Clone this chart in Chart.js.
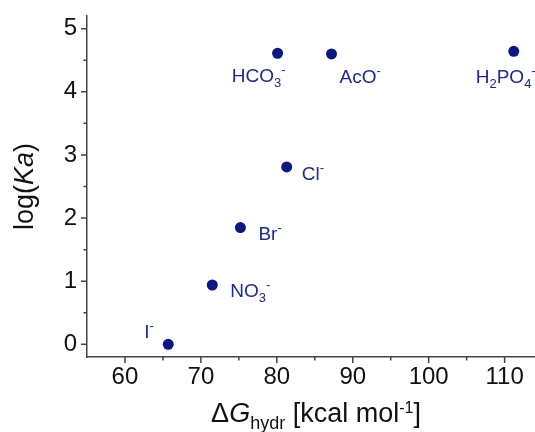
<!DOCTYPE html>
<html>
<head>
<meta charset="utf-8">
<script src="https://cdn.jsdelivr.net/npm/chart.js@4.4.1/dist/chart.umd.min.js"></script>
<style>
  body { margin: 0; background: #fff; }
  canvas { display: block; }
</style>
</head>
<body>
<canvas id="anionChart" width="535" height="432"></canvas>
<script>
// anion labels use _x for subscript and ^x for superscript
var anions   = ['I^-', 'NO_3^-', 'Br^-', 'Cl^-', 'HCO_3^-', 'AcO^-', 'H_2PO_4^-'];
var dGhydr   = [65.7, 71.5, 75.2, 81.3, 80.1, 87.2, 111.2];
var logKa    = [0.0, 0.94, 1.85, 2.81, 4.61, 4.60, 4.64];
var xTicks   = [60, 70, 80, 90, 100, 110];
var yTicks   = [0, 1, 2, 3, 4, 5];

var fontName  = '"Liberation Sans", Arial, sans-serif';
var dotColor  = '#0a1886';
var textColor = '#1c2b8c';
var axisColor = '#444';

// where each label sits relative to its dot (dx, baseline dy, align)
var labelPos = [
    [-24, -6, 'left'],
    [18, 12, 'left'],
    [18, 12, 'left'],
    [15, 13, 'left'],
    [8, 29, 'right'],
    [8, 29, 'left'],
    [-38, 32, 'left']
];

// split 'HCO_3^-' into pieces
function parseRich(str){
    var parts = [];
    var buf = '';
    for (var i = 0; i < str.length; i++){
        var c = str[i];
        if ((c == '_' || c == '^') && i + 1 < str.length){
            if (buf) { parts.push({t: buf}); buf = ''; }
            parts.push({t: str[i + 1], sub: c == '_', sup: c == '^'});
            i++;
        } else {
            buf += c;
        }
    }
    if (buf) parts.push({t: buf});
    return parts;
}

function partFont(p, size, smallSize){
    var s = (p.sub || p.sup) ? (p.size || smallSize) : size;
    return (p.it ? 'italic ' : '') + s + 'px ' + fontName;
}

function richWidth(ctx, parts, size, smallSize){
    var w = 0;
    parts.forEach(function(p){
        ctx.font = partFont(p, size, smallSize);
        w += ctx.measureText(p.t).width;
    });
    return w;
}

function drawRich(ctx, parts, x, y, align, size, smallSize, subOff, supOff){
    var w = richWidth(ctx, parts, size, smallSize);
    if (align == 'right') x -= w;
    if (align == 'center') x -= w / 2;
    ctx.textBaseline = 'alphabetic';
    ctx.textAlign = 'left';
    parts.forEach(function(p){
        ctx.font = partFont(p, size, smallSize);
        var yy = y;
        if (p.sub) yy += subOff;
        if (p.sup) yy -= supOff;
        ctx.fillText(p.t, x, yy);
        x += ctx.measureText(p.t).width;
    });
}

var decorPlugin = {
    id: 'decor',
    afterDraw: function(chart){
        var ctx = chart.ctx;
        var xs = chart.scales.x;
        var ys = chart.scales.y;
        var area = chart.chartArea;

        ctx.save();
        // tick marks, outward, minor ones shorter
        ctx.strokeStyle = axisColor;
        ctx.lineWidth = 1.5;
        ctx.beginPath();
        for (var v = 55; v <= 114; v += 5){
            var px = xs.getPixelForValue(v);
            if (px <= area.left + 1 || px >= area.right - 1) continue;
            var len = (v % 10 == 0) ? 6 : 3.5;
            ctx.moveTo(px, area.bottom);
            ctx.lineTo(px, area.bottom + len);
        }
        for (var k = 0; k <= 10; k++){
            var val = k * 0.5;
            var py = ys.getPixelForValue(val);
            var l2 = (k % 2 == 0) ? 6 : 3.5;
            ctx.moveTo(area.left, py);
            ctx.lineTo(area.left - l2, py);
        }
        ctx.stroke();

        // point labels
        ctx.fillStyle = textColor;
        for (var i = 0; i < anions.length; i++){
            var cx = xs.getPixelForValue(dGhydr[i]);
            var cy = ys.getPixelForValue(logKa[i]);
            var lp = labelPos[i];
            drawRich(ctx, parseRich(anions[i]), cx + lp[0], cy + lp[1], lp[2], 19, 13, 5, 8);
        }

        // x axis title
        ctx.fillStyle = '#111';
        var xTitle = [
            {t: '\u0394'},
            {t: 'G', it: true},
            {t: 'hydr', sub: true, size: 18},
            {t: ' [kcal mol'},
            {t: '-1', sup: true, size: 16},
            {t: ']'}
        ];
        drawRich(ctx, xTitle, 316, 422, 'center', 27, 18, 7, 9);

        // y axis title, rotated
        ctx.translate(33, (area.top + area.bottom) / 2);
        ctx.rotate(-Math.PI / 2);
        var yTitle = [
            {t: 'log('},
            {t: 'Ka', it: true},
            {t: ')'}
        ];
        drawRich(ctx, yTitle, 0, 0, 'center', 27, 18, 0, 0);
        ctx.restore();
    }
};

var ctx = document.getElementById('anionChart').getContext('2d');
var points = dGhydr.map(function(x, i){ return {x: x, y: logKa[i]}; });

var anionChart = new Chart(ctx, {
    type: 'scatter',
    data: {
        datasets: [{
            data: points,
            pointRadius: 5.5,
            pointHoverRadius: 5.5,
            backgroundColor: dotColor,
            borderWidth: 0
        }]
    },
    options: {
        responsive: false,
        animation: false,
        layout: { autoPadding: false, padding: { top: 16, right: 0, left: 0, bottom: 0 } },
        plugins: {
            legend: { display: false },
            tooltip: { enabled: false }
        },
        scales: {
            x: {
                type: 'linear',
                min: 55,
                max: 114,
                grid: { display: false, drawTicks: false },
                border: { display: true, color: axisColor, width: 1.5 },
                ticks: {
                    stepSize: 10,
                    includeBounds: false,
                    padding: 6,
                    color: '#111',
                    font: { family: fontName, size: 24 },
                    callback: function(v){ return xTicks.indexOf(v) >= 0 ? String(v) : ''; }
                },
                afterFit: function(s){
                    s.height = 75;
                    s.paddingLeft = 0;
                    s.paddingRight = 0;
                }
            },
            y: {
                min: -0.2,
                max: 5.2,
                grid: { display: false, drawTicks: false },
                border: { display: true, color: axisColor, width: 1.5 },
                ticks: {
                    stepSize: 1,
                    includeBounds: false,
                    padding: 10,
                    color: '#111',
                    font: { family: fontName, size: 24 },
                    callback: function(v){ return yTicks.indexOf(v) >= 0 ? String(v) : ''; }
                },
                afterFit: function(s){
                    s.width = 87;
                    s.paddingTop = 0;
                    s.paddingBottom = 0;
                }
            }
        }
    },
    plugins: [decorPlugin]
});
</script>
</body>
</html>
